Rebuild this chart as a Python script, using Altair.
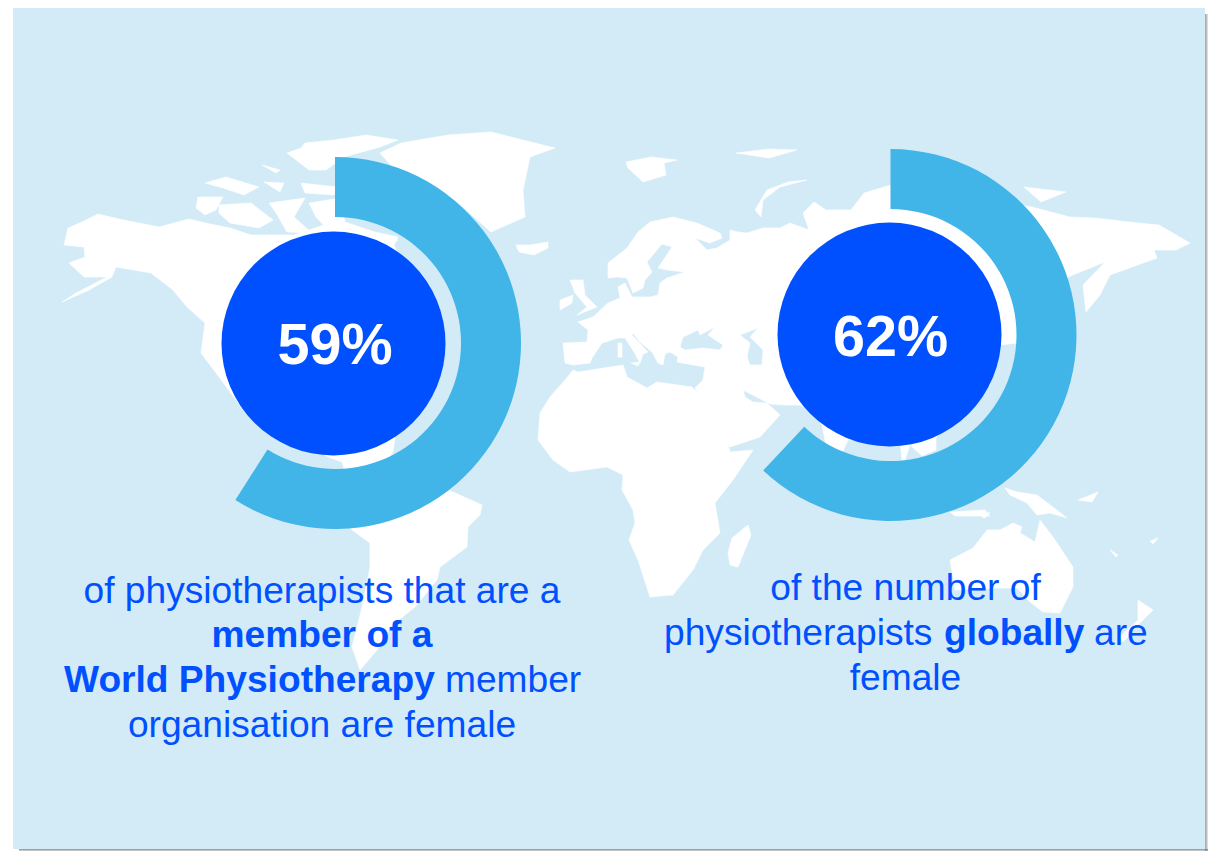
import altair as alt

# ---- colours
PANEL = "#D2EBF7"
RING = "#41B5E8"
BLUE = "#0050FF"

# ---- donut values
donut_names = ["left", "right"]
donut_pct = [59, 62]
donut_labels = ["59%", "62%"]
donut_cx = [335, 890.5]
donut_cy = [343, 335]
circle_cx = [333.5, 889.5]
circle_cy = [343.5, 334.5]

# ---- text fragments
normal_center = [
    ("of physiotherapists that are a", 322, 603),
    ("organisation are female", 322, 737),
    ("of the number of", 905.5, 600),
    ("female", 905.5, 690),
]
bold_center = [("member of a", 322, 647)]
normal_left = [
    ("member", 445, 692),
    ("physiotherapists", 664, 645),
    ("are", 1094, 645),
]
bold_left = [
    ("World Physiotherapy", 64, 692),
    ("globally", 944, 645),
]

# ---- panel and its drop shadow
panel_box = [{"x": 13, "x2": 1205, "y": 8, "y2": 849}]
shadow_right_edges = [1206, 1207, 1208]
shadow_bottom_edges = [850, 851]

# ---- world map outlines
north_america = [(68,228),(82,222),(98,214),(119,219),(159,227),(189,219),(210,224),(230,228),(251,235),(294,235),(330,223),(351,227),(398,237),(394,245),
    (420,300),(400,400),(393,452),(380,470),(345,472),(342,462),(328,457),(300,440),(241,407),(219,377),(201,353),(205,323),(187,307),(173,290),
    (151,273),(116,267),(112,277),(89,290),(62,302),(76,293),(107,277),(84,277),(69,263),(85,257),(84,247),(64,245)]
banks = [(198,197),(223,197),(216,210),(205,215),(196,208)]
victoria = [(219,205),(251,203),(273,220),(259,228),(230,223),(219,213)]
arctic_c = [(269,203),(305,198),(294,217),(312,233),(287,232),(276,213)]
baffin = [(309,203),(340,198),(345,222),(398,240),(385,245),(330,232),(316,217)]
ellesmere = [(305,143),(334,140),(366,135),(398,140),(380,147),(344,157),(326,170),(309,170),(287,153),(301,148)]
arctic_d = [(205,183),(226,177),(259,187),(244,195),(223,188)]
arctic_e = [(262,165),(280,170),(276,173)]
arctic_f = [(264,182),(284,183),(280,192)]
arctic_g = [(301,183),(337,187),(334,195),(305,193)]
greenland = [(380,153),(401,143),(448,135),(491,132),(523,140),(555,148),(530,157),(523,190),(525,217),(491,232),(455,200),(420,180),(395,170)]
iceland = [(516,245),(530,245),(548,242),(548,248),(534,255),(519,252)]
south_america = [(400,470),(453,492),(482,505),(480,515),(468,527),(467,547),(440,567),(437,580),(415,607),(390,627),(383,643),(360,670),(352,647),(362,607),(370,567),(370,543),(352,530),(345,515)]
svalbard = [(626,162),(651,157),(677,160),(664,163),(666,175),(643,182),(628,168)]
franz_josef = [(736,153),(769,149),(797,150),(769,158)]
novaya_zemlya = [(807,180),(780,187),(763,200),(761,217),(755,210),(767,190),(788,182)]
siberian_isles = [(1024,187),(1066,192),(1041,202)]
eurasia = [(563,343),(587,342),(588,330),(578,322),(593,317),(608,303),(620,298),(618,287),(625,283),(632,297),(650,297),(658,295),(660,283),(667,278),(685,272),(667,270),(658,268),(672,247),(662,244),(647,262),(652,272),(645,280),(643,288),(633,293),(627,278),(618,277),(608,278),(608,263),(627,248),(638,232),(650,222),(673,217),(697,223),(720,233),(722,238),(710,243),(695,238),(707,250),(717,248),(730,240),(730,230),(738,232),(747,233),(763,228),(780,228),(790,223),
    (809,230),(803,213),(814,202),(826,210),(851,210),(864,193),(891,185),
    (1032,207),(1070,217),(1096,218),(1129,222),(1159,225),(1190,243),(1176,250),(1154,250),(1157,258),(1110,275),(1100,295),(1086,312),(1083,285),(1105,262),(1068,277),
    (1040,330),(1018,343),(1000,345),(990,385),(945,425),(936,438),(936,450),(922,456),(910,445),(905,460),(902,460),(900,440),(848,440),(843,451),(826,445),(822,425),(810,410),(800,405),(787,405),(770,404),(743,390),(745,397),(753,402),(767,403),(780,415),(760,437),(730,447),(702,400),
    (695,388),(703,380),(705,367),(693,365),(677,362),(678,357),(670,352),(665,354),(663,365),(658,363),(652,352),(640,342),(633,333),(632,335),(648,352),(643,354),(640,363),(634,352),(625,338),(618,338),(602,343),(592,358),(590,363),(573,365),(565,363)]
black_sea = [(680,347),(683,337),(698,330),(700,335),(715,327),(708,335),(723,345),(720,350),(703,348),(685,350)]
caspian = [(740,335),(758,328),(750,337),(763,350),(762,365),(750,365),(747,357),(750,343)]
great_britain = [(570,280),(583,280),(585,295),(597,307),(577,315),(587,307),(575,293)]
ireland = [(560,300),(573,295),(572,303),(560,310)]
sardinia = [(618,343),(622,343),(622,357),(618,357)]
sicily = [(631,363),(640,362),(638,366)]
africa = [(573,370),(578,372),(623,365),(627,377),(647,388),(657,382),(692,387),(697,392),(727,440),(730,452),(753,450),(733,480),(715,503),(720,533),(703,550),(693,570),(673,595),(650,597),(638,560),(629,540),(635,523),(633,510),(622,490),(623,475),(607,467),(570,472),(553,460),(538,440),(540,413),(550,397),(565,380)]
madagascar = [(748,525),(751,535),(738,567),(730,565),(728,553),(732,538)]
australia = [(950,560),(973,548),(987,530),(1000,530),(1013,523),(1022,527),(1020,533),(1035,542),(1040,520),(1053,537),(1073,567),(1073,587),(1060,613),(1043,612),(1030,602),(1017,588),(997,588),(955,590),(953,577)]
new_guinea = [(1005,488),(1017,492),(1037,495),(1053,507),(1067,518),(1050,513),(1037,515),(1027,503),(1010,495)]
new_zealand = [(1138,600),(1153,610),(1140,623),(1123,642),(1120,637),(1138,620)]
java = [(950,512),(985,510),(990,516),(955,516)]
timor = [(982,517),(990,512),(985,518)]
solomon = [(1078,500),(1098,492),(1092,502)]
fiji = [(1150,541),(1158,538),(1153,544)]
vanuatu = [(1110,550),(1118,555),(1116,557)]

land = [north_america, banks, victoria, arctic_c, baffin, ellesmere, arctic_d, arctic_e, arctic_f, arctic_g,
        greenland, iceland, south_america, svalbard, franz_josef, novaya_zemlya, siberian_isles,
        great_britain, ireland, sardinia, sicily, africa, madagascar, australia, new_guinea, new_zealand, java, timor,
        solomon, fiji, vanuatu]


def feature(rings):
    closed = [[list(p) for p in r] + [list(r[0])] for r in rings]
    return {"type": "Feature", "properties": {}, "geometry": {"type": "Polygon", "coordinates": closed}}


features = [feature([r]) for r in land] + [feature([eurasia, black_sea[::-1], caspian[::-1]])]

W, H = 1200, 843
X = alt.X("x:Q", scale=alt.Scale(domain=[8, 1208], nice=False, zero=False), axis=None)
Y = alt.Y("y:Q", scale=alt.Scale(domain=[851, 8], nice=False, zero=False), axis=None)
X2 = alt.X2("x2:Q")
Y2 = alt.Y2("y2:Q")

shadow_r = alt.Chart(alt.Data(values=[{"x": 1205, "x2": e, "y": 14, "y2": 851} for e in shadow_right_edges])).mark_rect(
    fill="#707070", opacity=0.25).encode(x=X, x2=X2, y=Y, y2=Y2)
shadow_b = alt.Chart(alt.Data(values=[{"x": 19, "x2": 1208, "y": 849, "y2": e} for e in shadow_bottom_edges])).mark_rect(
    fill="#707070", opacity=0.42).encode(x=X, x2=X2, y=Y, y2=Y2)
panel = alt.Chart(alt.Data(values=panel_box)).mark_rect(fill=PANEL).encode(x=X, x2=X2, y=Y, y2=Y2)

world = alt.Chart(alt.Data(values=features)).mark_geoshape(fill="white", stroke="white", strokeWidth=0.6).project(
    type="identity", scale=1, translate=[-8, -8])

donut_rows = [{"name": n, "start": 0, "pct": p, "x": x, "y": y}
              for n, p, x, y in zip(donut_names, donut_pct, donut_cx, donut_cy)]
rings = alt.Chart(alt.Data(values=donut_rows)).mark_arc(radius=186, radius2=126, fill=RING).encode(
    x=X, y=Y,
    theta=alt.Theta("start:Q", stack=None, scale=alt.Scale(domain=[0, 100], range=[0, 6.283185307])),
    theta2=alt.Theta2("pct:Q"),
)

circle_rows = [{"x": x, "y": y} for x, y in zip(circle_cx, circle_cy)]
circles = alt.Chart(alt.Data(values=circle_rows)).mark_point(
    shape="circle", filled=True, fill=BLUE, opacity=1, size=224 * 224).encode(x=X, y=Y)

pct_rows = [{"t": t, "x": x, "y": y + 21} for t, x, y in zip(donut_labels, donut_cx, donut_cy)]
pct_text = alt.Chart(alt.Data(values=pct_rows)).mark_text(
    font="Liberation Sans", fontWeight="bold", fontSize=57.5, fill="white", align="center", baseline="alphabetic"
).encode(x=X, y=Y, text="t:N")


def txt(rows, weight, align):
    data = [{"t": t, "x": x, "y": y} for t, x, y in rows]
    return alt.Chart(alt.Data(values=data)).mark_text(
        font="Liberation Sans", fontWeight=weight, fontSize=37.15, fill=BLUE, align=align, baseline="alphabetic"
    ).encode(x=X, y=Y, text="t:N")


chart = alt.layer(
    shadow_r, shadow_b, panel, world, rings, circles, pct_text,
    txt(normal_center, "normal", "center"), txt(bold_center, "bold", "center"),
    txt(normal_left, "normal", "left"), txt(bold_left, "bold", "left"),
).properties(
    width=W, height=H, padding=0, autosize=alt.AutoSizeParams(type="none", contains="padding"),
    background="white",
).configure_view(stroke=None)

chart.save("out.html", embed_options={"renderer": "svg", "actions": False})
